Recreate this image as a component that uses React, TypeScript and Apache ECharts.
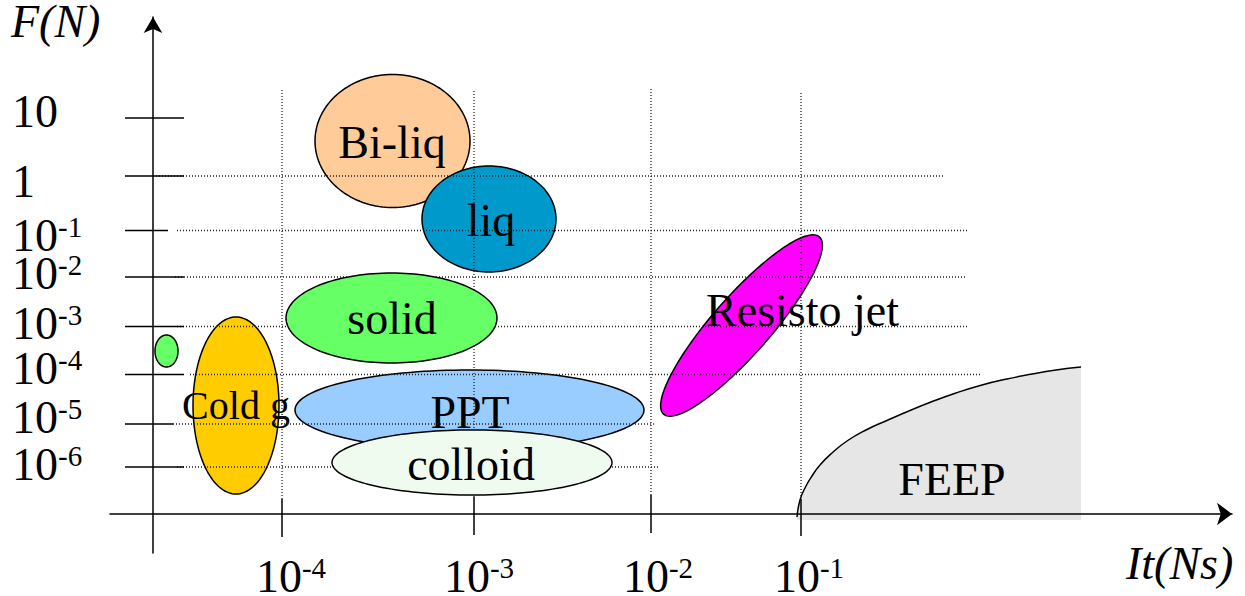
import React, { useEffect, useRef } from 'react';
import * as echarts from 'echarts';

// ---------- DATA (schematic axis units, origin at the axis crossing) ----------
const yTickLabels = ['10', '1', '10^-1', '10^-2', '10^-3', '10^-4', '10^-5', '10^-6'];
const yTickPos = [396, 338, 283.5, 237, 187.5, 139.5, 90, 47];
const yTickLeft = [-28, -28, -28, -28, -28, -28, -28, -28];
const yTickRight = [31, 31, 15, 31, 31, 31, 20, 31];
const yLabelPos = [403, 333, 279, 241, 191, 146, 97, 50];
const yGridStart = [NaN, 0, 24, 22, 24, 37, 20, 24];
const yGridEnd = [NaN, 792, 815, 813, 815, 829, 502, 507];

const xTickLabels = ['10^-4', '10^-3', '10^-2', '10^-1'];
const xTickPos = [129, 321, 498, 648];
const xLabelPos = [138, 326, 505, 656];
const xGridTop = [426, 423, 425, 421];
const xTickTop = [15, 17, 19, 15];
const xTickBottom = [-23, -21, -19, -22];

const ellipseNames = ['Bi-liq', 'liq', 'solid', '', 'Cold g', 'PPT', 'colloid', 'Resisto jet'];
const ellipseCx = [239.5, 336, 238.5, 13.5, 83, 316.5, 319, 588.5];
const ellipseCy = [373, 295, 196, 163, 108.5, 104, 51.5, 188.5];
const ellipseRx = [77.5, 67, 105.5, 11.5, 43, 174.5, 140, 118];
const ellipseRy = [66.5, 53, 45, 16, 88.5, 40, 32.5, 29];
const ellipseAngle = [0, 0, 0, 0, 0, 0, 0, 48.7];
const ellipseLabelX = [239, 338, 239, 0, 83, 317, 318, 649.5];
const ellipseLabelY = [372, 294, 196, 0, 108.5, 101.5, 50, 204];
const ellipseAboveGrid = [false, false, true, false, false, false, true, false];

const feepX = [644, 647, 652, 659, 667, 679, 694, 713, 735, 757, 778, 803, 829, 854, 879, 903, 928];
const feepY = [-3, 14, 26, 38, 49, 61, 73, 84, 94, 103.5, 112, 121, 129, 135, 140, 144, 147];
const feepLabel = { name: 'FEEP', x: 799, y: 35 };

// ---------- STYLES ----------
const FONT = '"Liberation Serif", "Times New Roman", serif';
const ellipseColors: Record<string, string> = {
  'Bi-liq': '#FFCC99',
  liq: '#0099CC',
  solid: '#66FF66',
  '': '#66FF66',
  'Cold g': '#FFCC00',
  PPT: '#99CCFF',
  colloid: '#F0FBF0',
  'Resisto jet': '#FF00FF',
};
const labelFontSize: Record<string, number> = { 'Cold g': 40 };

function richLabel(s: string) {
  const parts = s.split('^');
  return parts.length > 1 ? `{b|${parts[0]}}{s|${parts[1]}}` : `{b|${parts[0]}}`;
}

const rich = {
  b: { fontSize: 46, lineHeight: 46, fontFamily: FONT, color: '#000', verticalAlign: 'middle' },
  s: { fontSize: 29, lineHeight: 29, fontFamily: FONT, color: '#000', verticalAlign: 'top' },
};

function ellipseRender(params: any, api: any) {
  const i = api.value(7);
  const cx = api.value(0), cy = api.value(1), rx = api.value(2), ry = api.value(3);
  const a = (api.value(4) * Math.PI) / 180;
  const pts: number[][] = [];
  const N = 144;
  for (let k = 0; k < N; k++) {
    const t = (k / N) * Math.PI * 2;
    const lx = rx * Math.cos(t), ly = ry * Math.sin(t);
    pts.push(api.coord([cx + lx * Math.cos(a) - ly * Math.sin(a), cy + lx * Math.sin(a) + ly * Math.cos(a)]));
  }
  const name = ellipseNames[i];
  const children: any[] = [
    { type: 'polygon', shape: { points: pts }, style: { fill: ellipseColors[name], stroke: '#000', lineWidth: 1.5 } },
  ];
  if (name) {
    const lp = api.coord([api.value(5), api.value(6)]);
    children.push({
      type: 'text',
      x: lp[0],
      y: lp[1],
      style: {
        text: name, fill: '#000', font: `${labelFontSize[name] || 46}px ${FONT}`,
        textAlign: 'center', textVerticalAlign: 'middle', align: 'center', verticalAlign: 'middle',
      },
    });
  }
  return { type: 'group', children };
}

function segRender(style: any) {
  return (params: any, api: any) => {
    const p1 = api.coord([api.value(0), api.value(1)]);
    const p2 = api.coord([api.value(2), api.value(3)]);
    return { type: 'line', shape: { x1: p1[0], y1: p1[1], x2: p2[0], y2: p2[1] }, style };
  };
}

export default function App() {
  const ref = useRef<HTMLDivElement>(null);
  useEffect(() => {
    if (!ref.current) return;
    const chart = echarts.init(ref.current, undefined, { renderer: 'svg' });

    const ellipseData = ellipseNames.map((_, i) => [
      ellipseCx[i], ellipseCy[i], ellipseRx[i], ellipseRy[i], ellipseAngle[i],
      ellipseLabelX[i], ellipseLabelY[i], i,
    ]);
    const under = ellipseData.filter((d) => !ellipseAboveGrid[d[7]]);
    const over = ellipseData.filter((d) => ellipseAboveGrid[d[7]]);

    const gridData: number[][] = [];
    yTickPos.forEach((y, i) => {
      if (!isNaN(yGridStart[i])) gridData.push([yGridStart[i], y, yGridEnd[i], y]);
    });
    xTickPos.forEach((x, i) => gridData.push([x, xTickTop[i], x, xGridTop[i]]));

    const tickData: number[][] = [];
    yTickPos.forEach((y, i) => tickData.push([yTickLeft[i], y, yTickRight[i], y]));
    xTickPos.forEach((x, i) => tickData.push([x, xTickBottom[i], x, xTickTop[i]]));

    const option: any = {
      animation: false,
      backgroundColor: '#fff',
      grid: { left: 110, right: 13, top: 17, bottom: 43, containLabel: false, outerBoundsMode: 'none' },
      xAxis: {
        type: 'value', min: -43, max: 1079, z: 10,
        axisLine: { show: true, onZero: true, symbol: ['none', 'arrow'], symbolSize: [17, 15], lineStyle: { color: '#000', width: 1.5 } },
        axisTick: { show: false },
        splitLine: { show: false },
        axisLabel: {
          customValues: xLabelPos,
          margin: 0.5,
          verticalAlign: 'top',
          align: 'center',
          formatter: (v: number) => {
            const i = xLabelPos.indexOf(v);
            return i >= 0 ? richLabel(xTickLabels[i]) : '';
          },
          rich,
        },
      },
      yAxis: {
        type: 'value', min: -39, max: 497, z: 10,
        axisLine: { show: true, onZero: true, symbol: ['none', 'arrow'], symbolSize: [14, 16], lineStyle: { color: '#000', width: 1.5 } },
        axisTick: { show: false },
        splitLine: { show: false },
        axisLabel: {
          customValues: yLabelPos,
          margin: 98,
          align: 'left',
          verticalAlign: 'middle',
          formatter: (v: number) => {
            const i = yLabelPos.indexOf(v);
            return i >= 0 ? richLabel(yTickLabels[i]) : '';
          },
          rich,
        },
      },
      graphic: [
        { type: 'text', x: 11, y: 21.5, style: { text: 'F(N)', font: `italic 46px ${FONT}`, lineHeight: 38, fill: '#000', textVerticalAlign: 'middle', verticalAlign: 'middle' } },
        { type: 'text', x: 1126, y: 563.5, style: { text: 'It(Ns)', font: `italic 46px ${FONT}`, lineHeight: 38, fill: '#000', textVerticalAlign: 'middle', verticalAlign: 'middle' } },
      ],
      series: [
        { type: 'custom', name: 'under', z: 1, data: under, renderItem: ellipseRender },
        {
          type: 'custom', name: 'grid', z: 2, data: gridData,
          renderItem: segRender({ stroke: '#222', lineWidth: 1.3, lineDash: [1, 2] }),
        },
        {
          type: 'line', name: 'FEEP', z: 3, smooth: 0.5, symbol: 'none',
          data: feepX.map((x, i) => [x, feepY[i]]),
          lineStyle: { color: '#000', width: 1.5 },
          areaStyle: { color: '#E6E6E6', opacity: 1, origin: -6 },
        },
        {
          type: 'custom', name: 'ticks', z: 4, data: tickData,
          renderItem: segRender({ stroke: '#000', lineWidth: 1.5 }),
        },
        { type: 'custom', name: 'over', z: 4, data: over, renderItem: ellipseRender },
        {
          type: 'custom', name: 'feepLabel', z: 5, data: [[feepLabel.x, feepLabel.y]],
          renderItem: (params: any, api: any) => {
            const p = api.coord([api.value(0), api.value(1)]);
            return {
              type: 'text', x: p[0], y: p[1],
              style: {
                text: feepLabel.name, fill: '#000', font: `46px ${FONT}`,
                textAlign: 'center', textVerticalAlign: 'middle', align: 'center', verticalAlign: 'middle',
              },
            };
          },
        },
      ],
    };
    chart.setOption(option);
    return () => chart.dispose();
  }, []);
  return <div ref={ref} style={{ position: 'absolute', left: 0, top: 0, width: 1245, height: 596 }} />;
}
